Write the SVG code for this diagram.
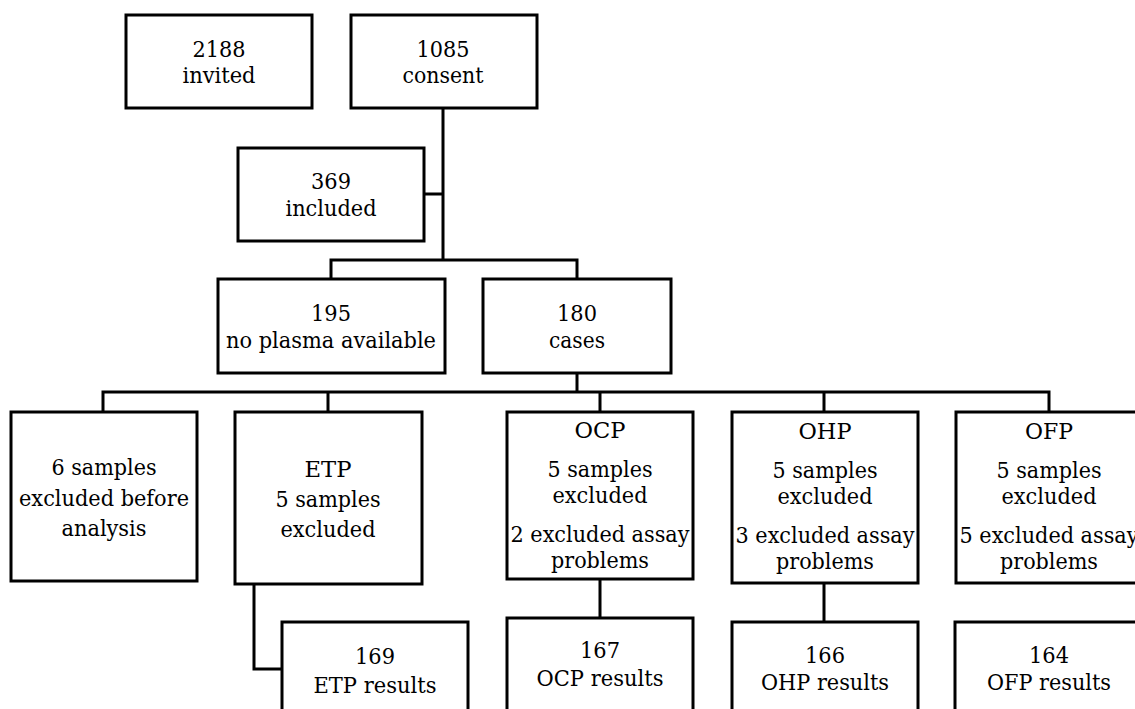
<svg xmlns="http://www.w3.org/2000/svg" width="1135" height="709" viewBox="0 0 1135 709">
<style>
.b{fill:#fff;stroke:#000;stroke-width:3}
.c{fill:none;stroke:#000;stroke-width:3;stroke-linecap:square}
text{font-family:"DejaVu Serif",serif;font-size:22px;fill:#000;text-anchor:middle}
</style>
<rect width="1135" height="709" fill="#fff"/>
<g id="connectors">
<path class="c" d="M443,108V260M424,194H443M331,279V260H577V279M577,373V392M103,412V392H1049V412M328,392V412M600,392V412M824,392V412M254,584V669H282M600,579V618M824,583V622"/>
</g>
<g id="invited"><rect class="b" x="126" y="15" width="186" height="93"/>
<text x="219" y="57" textLength="53" lengthAdjust="spacingAndGlyphs">2188</text><text x="219" y="83" textLength="73" lengthAdjust="spacingAndGlyphs">invited</text></g>
<g id="consent"><rect class="b" x="351" y="15" width="186" height="93"/>
<text x="443" y="57" textLength="53" lengthAdjust="spacingAndGlyphs">1085</text><text x="443" y="83" textLength="81" lengthAdjust="spacingAndGlyphs">consent</text></g>
<g id="included"><rect class="b" x="238" y="148" width="186" height="93"/>
<text x="331" y="189" textLength="40" lengthAdjust="spacingAndGlyphs">369</text><text x="331" y="216" textLength="91" lengthAdjust="spacingAndGlyphs">included</text></g>
<g id="noplasma"><rect class="b" x="218" y="279" width="227" height="94"/>
<text x="331" y="321" textLength="40" lengthAdjust="spacingAndGlyphs">195</text><text x="331" y="348" textLength="210" lengthAdjust="spacingAndGlyphs">no plasma available</text></g>
<g id="cases"><rect class="b" x="483" y="279" width="188" height="94"/>
<text x="577" y="321" textLength="40" lengthAdjust="spacingAndGlyphs">180</text><text x="577" y="348" textLength="56" lengthAdjust="spacingAndGlyphs">cases</text></g>
<g id="excl6"><rect class="b" x="11" y="412" width="186" height="169"/>
<text x="104" y="475" textLength="105" lengthAdjust="spacingAndGlyphs">6 samples</text><text x="104" y="506" textLength="170" lengthAdjust="spacingAndGlyphs">excluded before</text><text x="104" y="536" textLength="85" lengthAdjust="spacingAndGlyphs">analysis</text></g>
<g id="etp"><rect class="b" x="235" y="412" width="187" height="172"/>
<text x="328" y="477" textLength="47" lengthAdjust="spacingAndGlyphs">ETP</text><text x="328" y="507" textLength="105" lengthAdjust="spacingAndGlyphs">5 samples</text><text x="328" y="537" textLength="95" lengthAdjust="spacingAndGlyphs">excluded</text></g>
<g id="ocp"><rect class="b" x="507" y="412" width="186" height="167"/>
<text x="600" y="438" textLength="51" lengthAdjust="spacingAndGlyphs">OCP</text><text x="600" y="477" textLength="105" lengthAdjust="spacingAndGlyphs">5 samples</text><text x="600" y="503" textLength="95" lengthAdjust="spacingAndGlyphs">excluded</text><text x="600" y="542" textLength="179" lengthAdjust="spacingAndGlyphs">2 excluded assay</text><text x="600" y="568" textLength="98" lengthAdjust="spacingAndGlyphs">problems</text></g>
<g id="ohp"><rect class="b" x="732" y="412" width="186" height="171"/>
<text x="825" y="439" textLength="53" lengthAdjust="spacingAndGlyphs">OHP</text><text x="825" y="478" textLength="105" lengthAdjust="spacingAndGlyphs">5 samples</text><text x="825" y="504" textLength="95" lengthAdjust="spacingAndGlyphs">excluded</text><text x="825" y="543" textLength="179" lengthAdjust="spacingAndGlyphs">3 excluded assay</text><text x="825" y="569" textLength="98" lengthAdjust="spacingAndGlyphs">problems</text></g>
<g id="ofp"><rect class="b" x="956" y="412" width="186" height="171"/>
<text x="1049" y="439" textLength="48" lengthAdjust="spacingAndGlyphs">OFP</text><text x="1049" y="478" textLength="105" lengthAdjust="spacingAndGlyphs">5 samples</text><text x="1049" y="504" textLength="95" lengthAdjust="spacingAndGlyphs">excluded</text><text x="1049" y="543" textLength="179" lengthAdjust="spacingAndGlyphs">5 excluded assay</text><text x="1049" y="569" textLength="98" lengthAdjust="spacingAndGlyphs">problems</text></g>
<g id="etpres"><rect class="b" x="282" y="622" width="186" height="95"/>
<text x="375" y="664" textLength="40" lengthAdjust="spacingAndGlyphs">169</text><text x="375" y="693" textLength="123" lengthAdjust="spacingAndGlyphs">ETP results</text></g>
<g id="ocpres"><rect class="b" x="507" y="618" width="186" height="99"/>
<text x="600" y="658" textLength="40" lengthAdjust="spacingAndGlyphs">167</text><text x="600" y="686" textLength="127" lengthAdjust="spacingAndGlyphs">OCP results</text></g>
<g id="ohpres"><rect class="b" x="732" y="622" width="186" height="95"/>
<text x="825" y="663" textLength="40" lengthAdjust="spacingAndGlyphs">166</text><text x="825" y="690" textLength="128" lengthAdjust="spacingAndGlyphs">OHP results</text></g>
<g id="ofpres"><rect class="b" x="955" y="622" width="186" height="95"/>
<text x="1049" y="663" textLength="40" lengthAdjust="spacingAndGlyphs">164</text><text x="1049" y="690" textLength="124" lengthAdjust="spacingAndGlyphs">OFP results</text></g>
</svg>
